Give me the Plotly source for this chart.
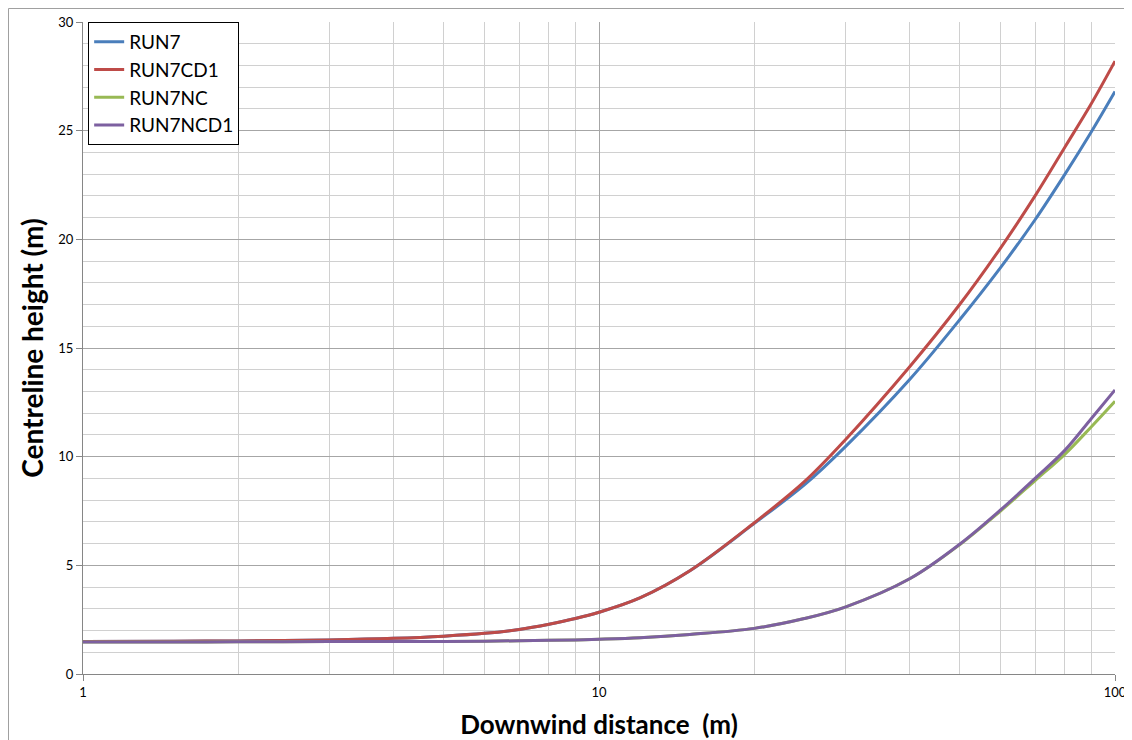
import plotly.graph_objects as go

distance = [1, 1.5, 2, 3, 4, 5, 6, 7, 8, 9, 10, 12, 15, 20, 25, 30, 40, 50, 60, 70, 80, 90, 100]

run7 = [1.50, 1.51, 1.52, 1.57, 1.64, 1.74, 1.87, 2.05, 2.29, 2.55, 2.84, 3.50, 4.75,
        6.93, 8.70, 10.45, 13.55, 16.30, 18.70, 20.90, 23.00, 24.95, 26.80]
run7cd1 = [1.50, 1.51, 1.52, 1.57, 1.64, 1.74, 1.87, 2.05, 2.29, 2.55, 2.84, 3.50, 4.75,
           6.96, 8.85, 10.77, 14.14, 17.00, 19.60, 22.00, 24.25, 26.25, 28.20]
run7nc = [1.47, 1.47, 1.48, 1.49, 1.49, 1.50, 1.51, 1.53, 1.55, 1.57, 1.60, 1.67, 1.82,
          2.10, 2.55, 3.08, 4.38, 5.95, 7.50, 8.90, 10.12, 11.38, 12.55]
run7ncd1 = [1.47, 1.47, 1.48, 1.49, 1.49, 1.50, 1.51, 1.53, 1.55, 1.57, 1.60, 1.67, 1.82,
            2.10, 2.55, 3.08, 4.38, 5.97, 7.55, 9.00, 10.30, 11.76, 13.07]

series = [
    ("RUN7", run7, "#4A7EBB"),
    ("RUN7CD1", run7cd1, "#BE4B48"),
    ("RUN7NC", run7nc, "#98B954"),
    ("RUN7NCD1", run7ncd1, "#7D60A0"),
]

fig = go.Figure()
for name, vals, color in series:
    fig.add_trace(go.Scatter(
        x=distance, y=vals, name=name, mode="lines",
        line=dict(color=color, width=3, shape="spline", smoothing=1.0),
    ))

font_family = "Lato, 'Open Sans', sans-serif"

# page has an 8px body margin; plot area should sit at page x 83..1115, y 22..674
W, H = 1132, 740
L, T = 75, 14
PW, PH = 1032, 652

fig.update_layout(
    width=W, height=H,
    margin=dict(l=L, r=W - L - PW, t=T, b=H - T - PH),
    paper_bgcolor="white", plot_bgcolor="white",
    font=dict(family=font_family, color="black", size=13),
    showlegend=True,
    legend=dict(
        x=0.005, y=1, xanchor="left", yanchor="top",
        bordercolor="black", borderwidth=1, bgcolor="white",
        font=dict(size=19, family=font_family),
        itemwidth=30, tracegroupgap=0,
    ),
    xaxis=dict(
        type="log", range=[0, 2], dtick=1, automargin=False,
        showgrid=True, gridcolor="#A6A6A6", gridwidth=1,
        minor=dict(dtick="D1", showgrid=True, gridcolor="#D0D0D0", gridwidth=1, ticks=""),
        showline=True, linecolor="#868686", linewidth=1,
        ticks="outside", ticklen=6, tickcolor="#868686",
        tickfont=dict(size=13),
        zeroline=False,
        title=dict(text="<b>Downwind distance  (m)</b>", font=dict(size=26), standoff=17),
    ),
    yaxis=dict(
        range=[0, 30], dtick=5, automargin=False,
        showgrid=True, gridcolor="#A6A6A6", gridwidth=1,
        minor=dict(dtick=1, showgrid=True, gridcolor="#D0D0D0", gridwidth=1, ticks=""),
        showline=True, linecolor="#868686", linewidth=1,
        ticks="outside", ticklen=6, tickcolor="#868686",
        tickfont=dict(size=13),
        zeroline=False,
        title=dict(text="<b>Centreline height (m)</b>", font=dict(size=28), standoff=6),
    ),
    shapes=[dict(
        type="rect", xref="paper", yref="paper",
        x0=(0.5 - L) / PW, x1=(W + 20 - L) / PW,
        y0=(T + PH - (H + 20)) / PH, y1=(T + PH - 0.5) / PH,
        line=dict(color="#A0A0A0", width=1), fillcolor="rgba(0,0,0,0)", layer="below",
    )],
)

fig.write_html("out.html")
